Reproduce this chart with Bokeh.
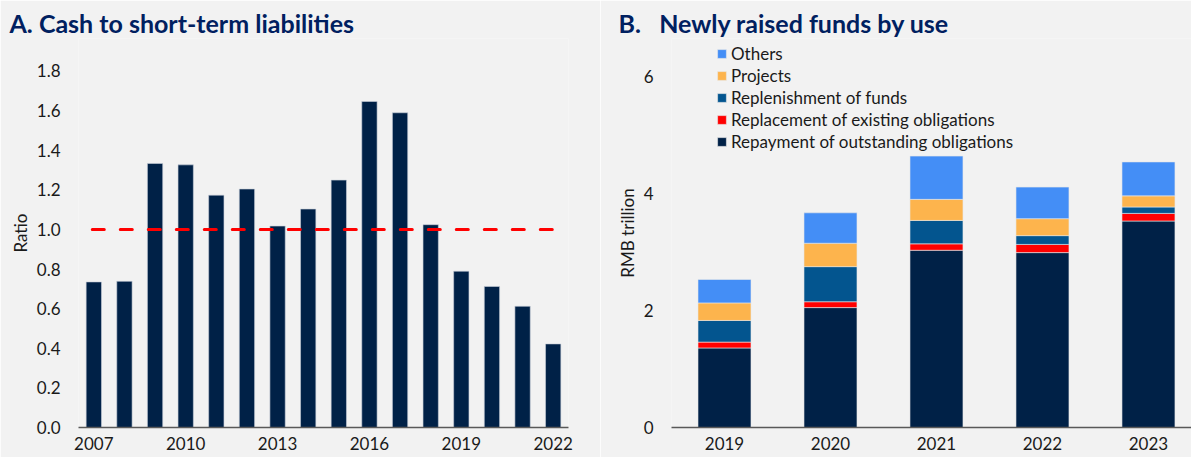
from bokeh.plotting import figure
from bokeh.layouts import row
from bokeh.models import (FixedTicker, NumeralTickFormatter, Legend, LegendItem,
                          Range1d, ColumnDataSource)
from bokeh.embed import file_html
from bokeh.resources import INLINE

# ---------------- data ----------------
years_a = [2007, 2008, 2009, 2010, 2011, 2012, 2013, 2014,
           2015, 2016, 2017, 2018, 2019, 2020, 2021, 2022]
ratio = [0.735, 0.738, 1.333, 1.326, 1.173, 1.204, 1.017, 1.103,
         1.249, 1.646, 1.589, 1.024, 0.789, 0.712, 0.612, 0.422]
threshold = 1.0
xticks_a = [2007, 2010, 2013, 2016, 2019, 2022]
yticks_a = [0.0, 0.2, 0.4, 0.6, 0.8, 1.0, 1.2, 1.4, 1.6, 1.8]

years_b = [2019, 2020, 2021, 2022, 2023]
repayment = [1.36, 2.05, 3.03, 2.99, 3.53]
replacement = [0.10, 0.10, 0.11, 0.14, 0.13]
replenishment = [0.37, 0.60, 0.40, 0.15, 0.11]
projects = [0.30, 0.40, 0.36, 0.29, 0.19]
others = [0.40, 0.52, 0.74, 0.54, 0.58]
series_b = ["repayment", "replacement", "replenishment", "projects", "others"]
labels_b = ["Repayment of outstanding obligations", "Replacement of existing obligations",
            "Replenishment of funds", "Projects", "Others"]
colors_b = ["#002147", "#ff0000", "#03558f", "#fdb44d", "#448ef6"]
yticks_b = [0, 2, 4, 6]

title_a = "A. Cash to short-term liabilities"
title_b = "B.\u00a0\u00a0\u00a0Newly raised funds by use"

# ---------------- style ----------------
BG = "#f2f2f2"
FONT = "Lato"
NAVY = "#002147"
TITLE_COLOR = "#002060"
TXT = "#1a1a1a"


def style(p, title, title_offset):
    p.background_fill_color = BG
    p.border_fill_color = BG
    p.outline_line_color = None
    p.grid.visible = False
    p.title.text = title
    p.title.text_font = FONT
    p.title.text_font_size = "25px"
    p.title.text_font_style = "bold"
    p.title.text_color = TITLE_COLOR
    p.title.align = "left"
    p.title.offset = title_offset
    p.title.standoff = 2
    for ax in (p.xaxis, p.yaxis):
        ax.major_tick_line_color = None
        ax.minor_tick_line_color = None
        ax.major_tick_out = 0
        ax.major_tick_in = 0
        ax.minor_tick_out = 0
        ax.minor_tick_in = 0
        ax.major_label_text_font = FONT
        ax.major_label_text_font_size = "17px"
        ax.major_label_text_color = TXT
        ax.axis_label_text_font = FONT
        ax.axis_label_text_font_size = "17px"
        ax.axis_label_text_font_style = "normal"
        ax.axis_label_text_color = TXT
    p.xaxis.axis_line_color = "#595959"
    p.xaxis.axis_line_width = 1.5
    p.xaxis.major_label_standoff = 9
    p.yaxis.axis_line_color = None
    p.yaxis.major_label_standoff = 18
    p.yaxis.axis_label_standoff = 3


# ---------------- chart A ----------------
p1 = figure(width=600, height=457,
            x_range=Range1d(2006.5, 2022.5), y_range=Range1d(0, 1.964),
            output_backend="svg", toolbar_location=None,
            min_border_left=78, min_border_right=32, min_border_top=38, min_border_bottom=30)
style(p1, title_a, -69)
p1.vbar(x=years_a, top=ratio, width=0.5, fill_color=NAVY, line_color="#c9d0da", line_width=0.6)
p1.line(x=[years_a[0] - 0.05, years_a[-1] + 0.05], y=[threshold, threshold],
        line_color="#ff0000", line_width=3, line_dash="12 16", line_cap="round")
p1.xaxis.ticker = FixedTicker(ticks=xticks_a)
p1.yaxis.ticker = FixedTicker(ticks=yticks_a)
p1.yaxis.formatter = NumeralTickFormatter(format="0.0")
p1.yaxis.axis_label = "Ratio"

# ---------------- chart B ----------------
src = ColumnDataSource(dict(year=years_b, repayment=repayment, replacement=replacement,
                            replenishment=replenishment, projects=projects, others=others))
p2 = figure(width=591, height=457,
            x_range=Range1d(2018.5, 2023.406), y_range=Range1d(0, 6.65),
            output_backend="svg", toolbar_location=None,
            min_border_left=71, min_border_right=0, min_border_top=38, min_border_bottom=30)
style(p2, title_b, -53)
rs = p2.vbar_stack(series_b, x="year", width=0.5, color=colors_b, source=src,
                   line_color="#e8e8e8", line_width=0.6)
p2.xaxis.ticker = FixedTicker(ticks=years_b)
p2.yaxis.ticker = FixedTicker(ticks=yticks_b)
p2.yaxis.formatter = NumeralTickFormatter(format="0")
p2.yaxis.axis_label = "RMB trillion"

items = [LegendItem(label=lab, renderers=[r]) for lab, r in zip(labels_b, rs)][::-1]
legend = Legend(items=items, location=(45, 275), label_text_font=FONT,
                label_text_font_size="17px", label_text_color=TXT,
                glyph_width=11, glyph_height=11, label_height=22, spacing=0,
                padding=0, margin=0, label_standoff=4,
                border_line_color=None, background_fill_alpha=0)
p2.add_layout(legend)

layout = row(p1, p2)
open("out.html", "w").write(file_html(layout, INLINE))
